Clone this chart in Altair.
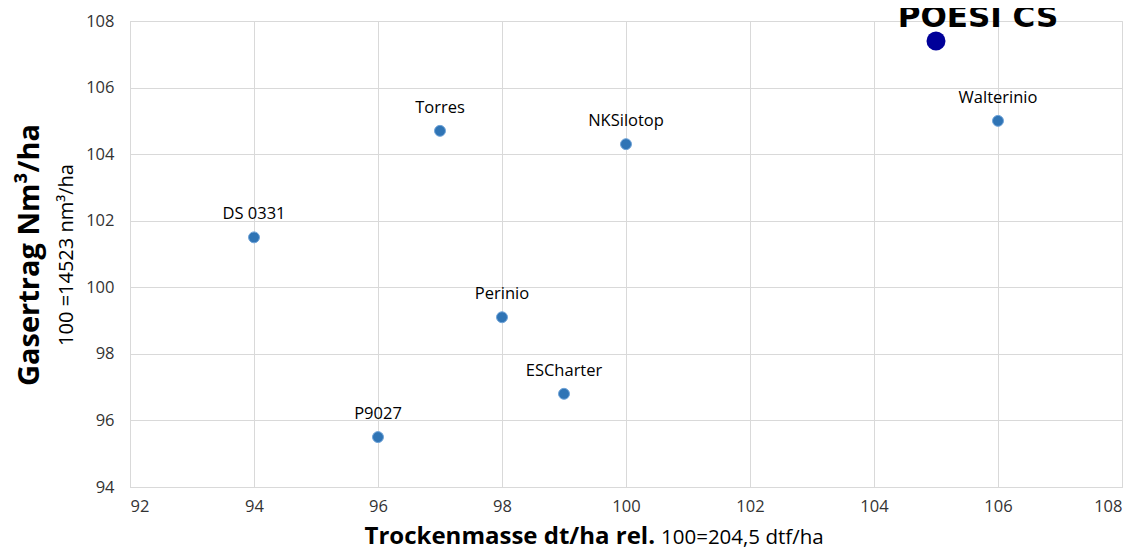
import altair as alt
import pandas as pd

names = ["DS 0331", "P9027", "Torres", "Perinio", "ESCharter", "NKSilotop", "Walterinio"]
tm = [94, 96, 97, 98, 99, 100, 106]
gas = [101.5, 95.5, 104.7, 99.1, 96.8, 104.3, 105.0]

hl_name = ["POESI CS"]
hl_tm = [105]
hl_gas = [107.4]

x_ticks = [92, 94, 96, 98, 100, 102, 104, 106, 108]
y_ticks = [94, 96, 98, 100, 102, 104, 106, 108]

x_title_bold = "Trockenmasse dt/ha rel."
x_title_norm = "100=204,5 dtf/ha"
y_title_bold = "Gasertrag Nm³/ha"
y_title_norm = "100 =14523 nm³/ha"

df = pd.DataFrame({"name": names, "tm": tm, "gas": gas})
dh = pd.DataFrame({"name": hl_name, "tm": hl_tm, "gas": hl_gas})

FONT = "Open Sans"
W, H = 992, 466

xs = alt.Scale(domain=[92, 108], nice=False, zero=False)
ys = alt.Scale(domain=[94, 108], nice=False, zero=False)

xax = alt.Axis(values=x_ticks, format="d", title=None, grid=True, ticks=False,
               labelPadding=11, labelFontSize=16.5, labelColor="#333333", labelFont=FONT,
               gridColor="#d9d9d9", domainColor="#d9d9d9")
yax = alt.Axis(values=y_ticks, format="d", title=None, grid=True, ticks=False,
               labelPadding=16, labelFontSize=16.5, labelColor="#333333", labelFont=FONT,
               gridColor="#d9d9d9", domainColor="#d9d9d9")

base = alt.Chart(df).encode(
    x=alt.X("tm:Q", scale=xs, axis=xax),
    y=alt.Y("gas:Q", scale=ys, axis=yax),
)
pts = base.mark_point(filled=True, size=120, color="#2f74b5", stroke="#6fa3d8",
                      strokeWidth=1, opacity=1)
lbl = base.mark_text(dy=-18, baseline="alphabetic", fontSize=16.5, font=FONT,
                     color="#000000").encode(text="name:N")

hb = alt.Chart(dh).encode(x=alt.X("tm:Q", scale=xs), y=alt.Y("gas:Q", scale=ys))
hpts = hb.mark_point(filled=True, size=360, color="#000099", opacity=1)
hlbl = hb.mark_text(dx=42, dy=-14, baseline="alphabetic", fontSize=31, fontWeight="bold",
                    font="DejaVu Sans", color="#000000").encode(text="name:N")

tdf = pd.DataFrame({"a": [0]})
xt1 = alt.Chart(tdf).mark_text(align="right", baseline="alphabetic", fontSize=24,
                               fontWeight="bold", font=FONT, color="#000000").encode(
    x=alt.value(525), y=alt.value(523), text=alt.value(x_title_bold))
xt2 = alt.Chart(tdf).mark_text(align="left", baseline="alphabetic", fontSize=20.5,
                               font=FONT, color="#000000").encode(
    x=alt.value(531), y=alt.value(523), text=alt.value(x_title_norm))
yt1 = alt.Chart(tdf).mark_text(align="center", baseline="middle", angle=270, fontSize=29,
                               fontWeight="bold", font=FONT, color="#000000").encode(
    x=alt.value(-100), y=alt.value(234), text=alt.value(y_title_bold))
yt2 = alt.Chart(tdf).mark_text(align="center", baseline="middle", angle=270, fontSize=20,
                               font=FONT, color="#000000").encode(
    x=alt.value(-63), y=alt.value(234), text=alt.value(y_title_norm))

chart = alt.layer(pts, lbl, hpts, hlbl, xt1, xt2, yt1, yt2).properties(
    width=W, height=H,
    autosize=alt.AutoSizeParams(type="none"),
    padding={"left": 122, "top": 13, "right": 13, "bottom": 66},
).configure_view(stroke=None).configure(background="white")

chart.save("out.html", embed_options={"renderer": "svg", "actions": False})
